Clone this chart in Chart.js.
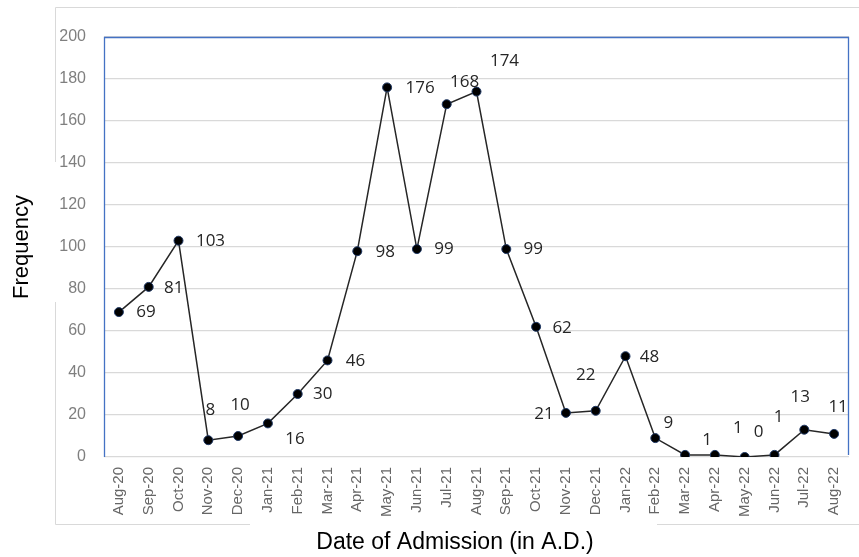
<!DOCTYPE html>
<html>
<head>
<meta charset="utf-8">
<script src="https://cdn.jsdelivr.net/npm/chart.js@4"></script>
<style>
html,body{margin:0;padding:0;background:#fff;}
#wrap{width:859px;height:557px;position:relative;}
</style>
</head>
<body>
<div id="wrap"><canvas id="c" width="859" height="557"></canvas></div>
<script>
const categories = ["Aug-20","Sep-20","Oct-20","Nov-20","Dec-20","Jan-21","Feb-21","Mar-21","Apr-21","May-21","Jun-21","Jul-21","Aug-21","Sep-21","Oct-21","Nov-21","Dec-21","Jan-22","Feb-22","Mar-22","Apr-22","May-22","Jun-22","Jul-22","Aug-22"];
const frequency = [69,81,103,8,10,16,30,46,98,176,99,168,174,99,62,21,22,48,9,1,1,0,1,13,11];
const yTicks = [0,20,40,60,80,100,120,140,160,180,200];
const xTitle = 'Date of Admission (in A.D.)';
const yTitle = 'Frequency';

// label placement offsets (dx, dy) relative to each point, in px
const labelOffsets = [
  [27,0],[25,1],[32,0],[2,-30],[2,-31],[27,16],[25,0],[28,1],[28,1],[33,1],[27,0],
  [18,-22],[28,-30],[27,0],[26,1],[-22,1],[-10,-36],[24,1],[13,-15],[22,-15],[23,-27],
  [14,-25],[4,-38],[-4,-33],[4,-27]
];

const framePlugin = {
  id: 'frame',
  beforeDraw(chart) {
    const ctx = chart.ctx;
    ctx.save();
    ctx.strokeStyle = '#d9d9d9';
    ctx.lineWidth = 1;
    ctx.beginPath();
    ctx.moveTo(55.5, 162); ctx.lineTo(55.5, 7.5); ctx.lineTo(859, 7.5);
    ctx.moveTo(55.5, 302); ctx.lineTo(55.5, 524.5); ctx.lineTo(250, 524.5);
    ctx.moveTo(657, 524.5); ctx.lineTo(859, 524.5);
    ctx.stroke();
    ctx.restore();
  },
  afterDatasetsDraw(chart) {
    const ctx = chart.ctx;
    const a = chart.chartArea;
    ctx.save();
    ctx.strokeStyle = '#4472c4';
    ctx.lineWidth = 1.3;
    ctx.beginPath();
    ctx.moveTo(a.left + 0.5, a.bottom);
    ctx.lineTo(a.left + 0.5, a.top + 0.5);
    ctx.lineTo(a.right - 0.5, a.top + 0.5);
    ctx.lineTo(a.right - 0.5, a.bottom - 2);
    ctx.stroke();
    // x axis title
    ctx.fillStyle = '#000';
    ctx.font = '23px "Liberation Sans", Arial, sans-serif';
    ctx.textAlign = 'center';
    ctx.textBaseline = 'middle';
    ctx.fillText(xTitle, 455, 543);
    // data labels
    const meta = chart.getDatasetMeta(0);
    ctx.fillStyle = '#262626';
    ctx.font = '17px "Open Sans", "Noto Sans", sans-serif';
    meta.data.forEach((pt, i) => {
      const o = labelOffsets[i];
      ctx.fillText(String(frequency[i]), pt.x + o[0], pt.y + o[1]);
    });
    ctx.restore();
  }
};

new Chart(document.getElementById('c'), {
  type: 'line',
  data: {
    labels: categories,
    datasets: [{
      data: frequency,
      borderColor: '#262626',
      borderWidth: 1.5,
      pointRadius: 4.5,
      pointBackgroundColor: '#000',
      pointBorderColor: '#1f3864',
      pointBorderWidth: 1,
      tension: 0,
      fill: false
    }]
  },
  options: {
    responsive: false,
    animation: false,
    layout: { padding: { top: 37, right: 10, bottom: 0, left: 0 } },
    plugins: { legend: { display: false }, tooltip: { enabled: false } },
    scales: {
      x: {
        type: 'category',
        offset: true,
        grid: { display: false, drawTicks: false },
        border: { display: false },
        ticks: {
          minRotation: 90, maxRotation: 90, padding: 10, autoSkip: false,
          color: '#666666',
          font: { family: '"Liberation Sans", Arial, sans-serif', size: 15 }
        },
        title: { display: false },
        afterFit(scale) { scale.height = 100; scale.paddingRight = 0; scale.paddingLeft = 0; }
      },
      y: {
        min: 0, max: 200,
        afterBuildTicks(scale) { scale.ticks = yTicks.map(v => ({ value: v })); },
        grid: { color: '#d9d9d9', lineWidth: 1.3, drawTicks: false },
        border: { display: false },
        ticks: {
          padding: 18, color: '#7f7f7f',
          font: { family: '"Liberation Sans", Arial, sans-serif', size: 16 }
        },
        title: {
          display: true, text: yTitle, color: '#000',
          font: { family: '"Liberation Sans", Arial, sans-serif', size: 22 },
          padding: { top: 9, bottom: 2 }
        },
        afterFit(scale) { scale.width = 104; }
      }
    }
  },
  plugins: [framePlugin]
});
</script>
</body>
</html>
